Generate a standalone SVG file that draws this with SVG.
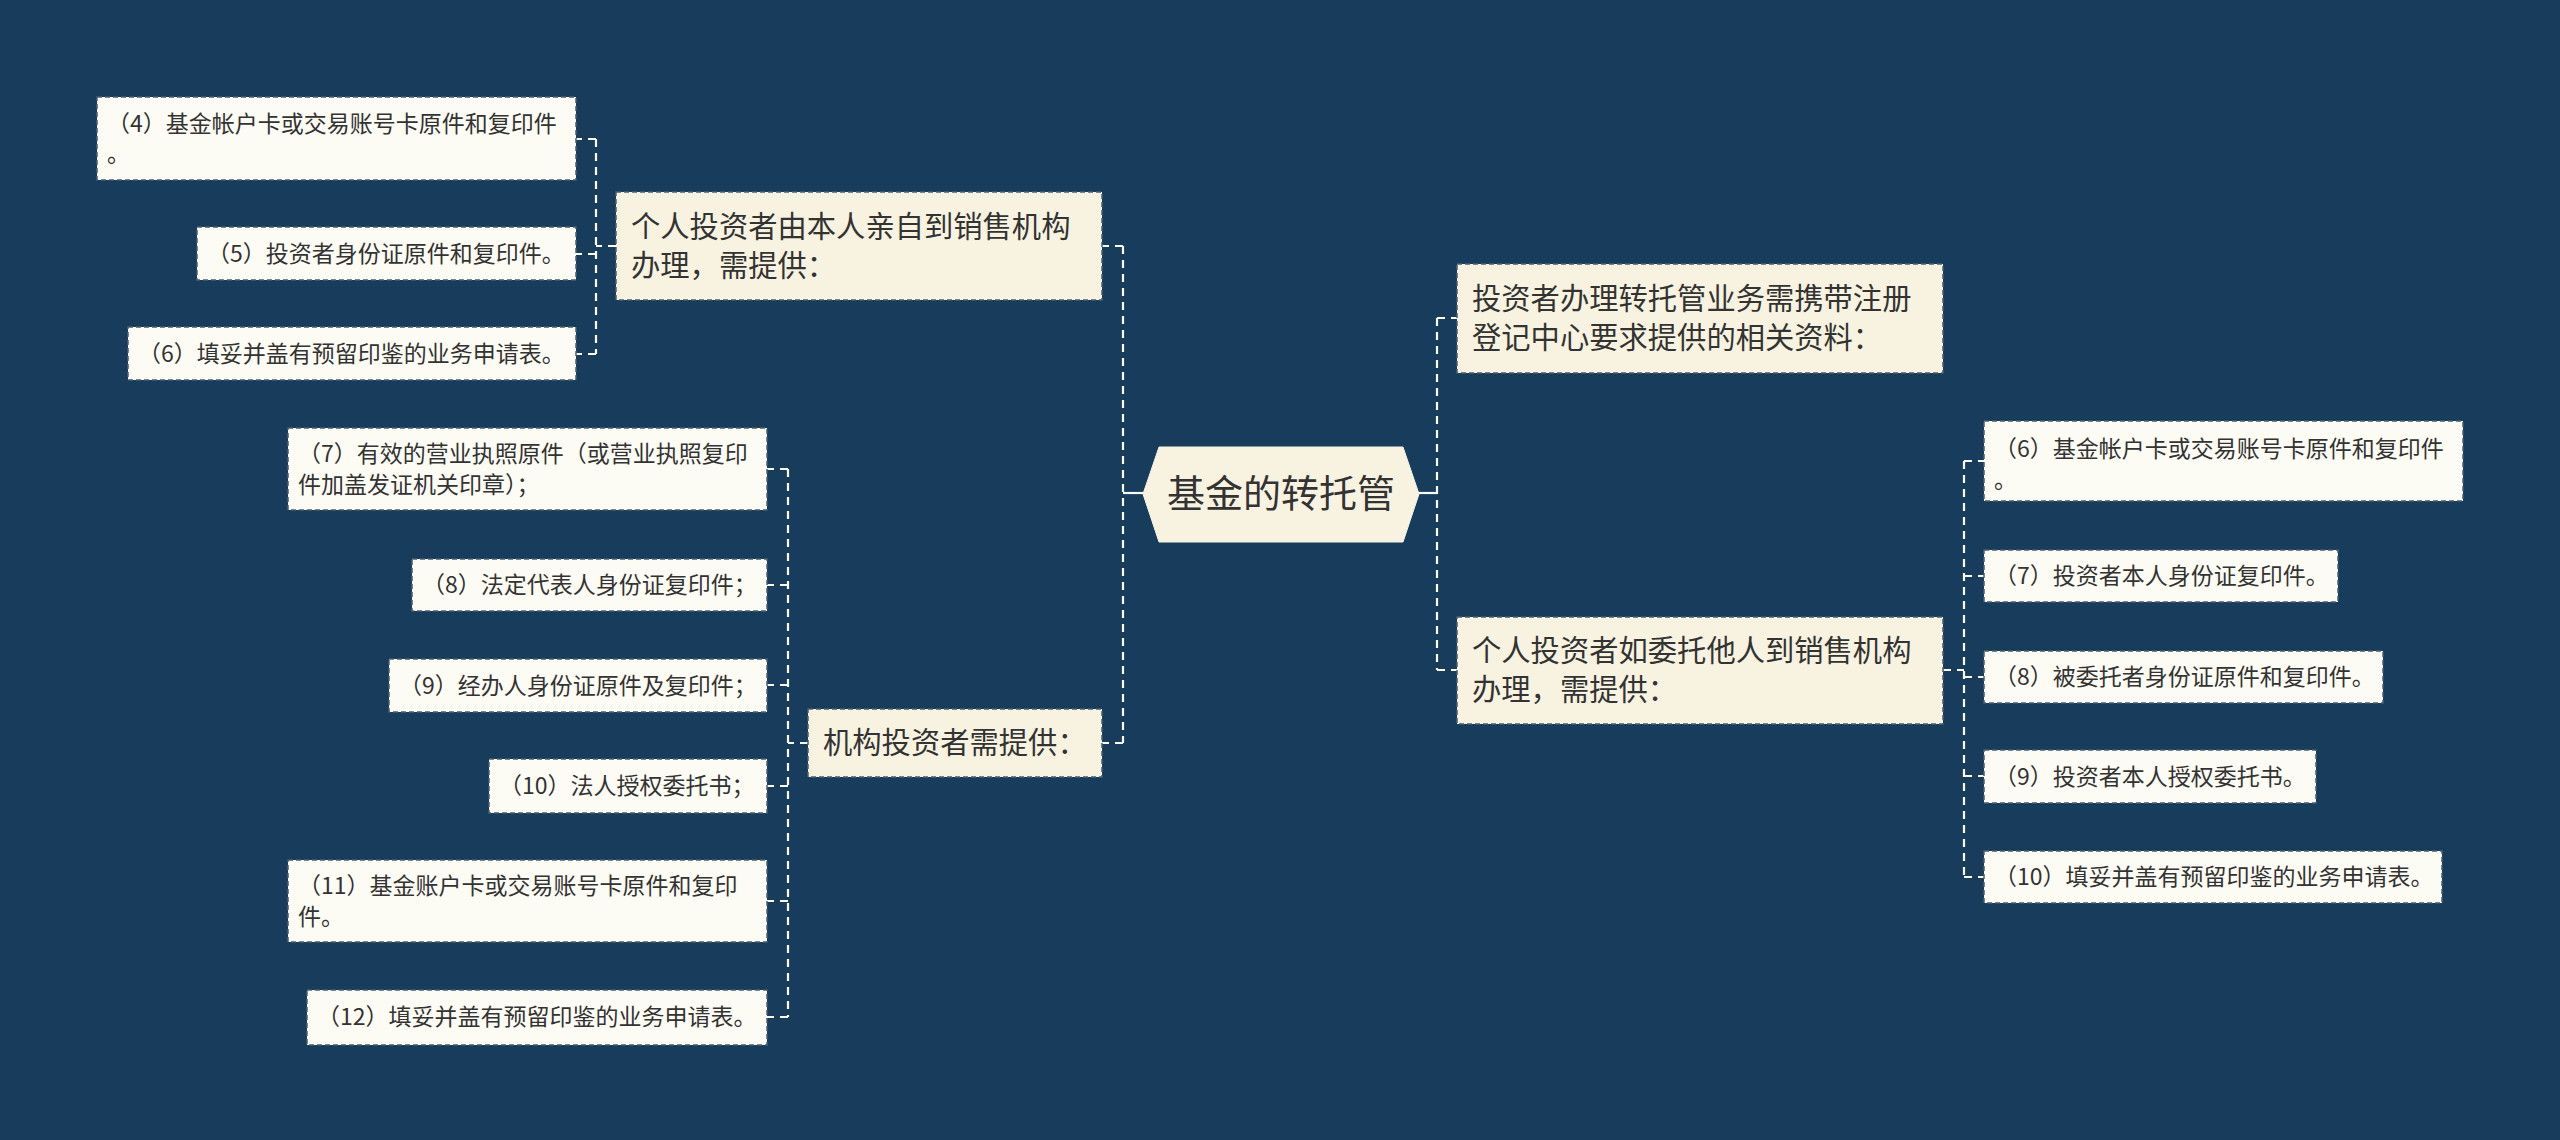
<svg xmlns="http://www.w3.org/2000/svg" width="2560" height="1140" viewBox="0 0 2560 1140">
<style>
.bg{fill:#173c5c}
.conn{fill:none;stroke:#ffffff;stroke-width:2.2;stroke-dasharray:8 6}
.stub{fill:none;stroke:#ffffff;stroke-width:2.2}
.hub{fill:#f8f3e1;stroke:#f8f3e1;stroke-width:1}
.mid{fill:#f8f3e1;stroke:#4b5d6e;stroke-width:1.5;stroke-dasharray:5 3}
.leaf{fill:#fdfcf4;stroke:#4b5d6e;stroke-width:1.5;stroke-dasharray:5 3}
text{font-family:"Noto Sans CJK SC","Noto Sans",sans-serif;fill:#333333}
.th{font-size:38px}
.tm{font-size:29.3px}
.tl{font-size:23px}
</style>
<rect class="bg" x="0" y="0" width="2560" height="1140"/>

<g id="connectors">
  <path class="stub" d="M1143 493 H1123"/>
  <path class="conn" d="M1123 246 V743"/>
  <path class="conn" d="M1123 246 H1102"/>
  <path class="conn" d="M1123 743 H1102"/>

  <path class="stub" d="M1419 493 H1437"/>
  <path class="conn" d="M1437 318 V670"/>
  <path class="conn" d="M1437 318 H1457"/>
  <path class="conn" d="M1437 670 H1457"/>

  <path class="conn" d="M616 246 H596"/>
  <path class="conn" d="M596 139 V354"/>
  <path class="conn" d="M596 139 H576"/>
  <path class="conn" d="M596 254 H576"/>
  <path class="conn" d="M596 354 H576"/>

  <path class="conn" d="M808 743 H788"/>
  <path class="conn" d="M788 469 V1017"/>
  <path class="conn" d="M788 469 H767"/>
  <path class="conn" d="M788 585 H767"/>
  <path class="conn" d="M788 685 H767"/>
  <path class="conn" d="M788 786 H767"/>
  <path class="conn" d="M788 901 H767"/>
  <path class="conn" d="M788 1017 H767"/>

  <path class="conn" d="M1943 670 H1964"/>
  <path class="conn" d="M1964 461 V877"/>
  <path class="conn" d="M1964 461 H1984"/>
  <path class="conn" d="M1964 576 H1984"/>
  <path class="conn" d="M1964 677 H1984"/>
  <path class="conn" d="M1964 776 H1984"/>
  <path class="conn" d="M1964 877 H1984"/>
</g>

<g id="hub">
  <polygon class="hub" points="1143,494 1159,447 1403,447 1419,494 1403,542 1159,542"/>
  <text class="th" x="1281" y="507" text-anchor="middle">基金的转托管</text>
</g>

<g id="n-self">
  <rect class="mid" x="616" y="192" width="486" height="108"/>
  <text class="tm" x="631" y="237">个人投资者由本人亲自到销售机构</text>
  <text class="tm" x="631" y="276">办理，需提供：</text>
</g>

<g id="n-inst">
  <rect class="mid" x="808" y="709" width="294" height="68"/>
  <text class="tm" x="823" y="753">机构投资者需提供：</text>
</g>

<g id="n-carry">
  <rect class="mid" x="1457" y="264" width="486" height="109"/>
  <text class="tm" x="1472" y="309">投资者办理转托管业务需携带注册</text>
  <text class="tm" x="1472" y="348">登记中心要求提供的相关资料：</text>
</g>

<g id="n-entrust">
  <rect class="mid" x="1457" y="617" width="486" height="107"/>
  <text class="tm" x="1472" y="661">个人投资者如委托他人到销售机构</text>
  <text class="tm" x="1472" y="700">办理，需提供：</text>
</g>

<g id="l4">
  <rect class="leaf" x="97" y="97" width="479" height="83"/>
  <text class="tl" x="107" y="132">（4）基金帐户卡或交易账号卡原件和复印件</text>
  <text class="tl" x="107" y="162">。</text>
</g>
<g id="l5">
  <rect class="leaf" x="197" y="227" width="379" height="53"/>
  <text class="tl" x="207" y="262">（5）投资者身份证原件和复印件。</text>
</g>
<g id="l6">
  <rect class="leaf" x="128" y="327" width="448" height="53"/>
  <text class="tl" x="138" y="362">（6）填妥并盖有预留印鉴的业务申请表。</text>
</g>

<g id="l7">
  <rect class="leaf" x="288" y="428" width="479" height="82"/>
  <text class="tl" x="298" y="462">（7）有效的营业执照原件（或营业执照复印</text>
  <text class="tl" x="298" y="493">件加盖发证机关印章）；</text>
</g>
<g id="l8">
  <rect class="leaf" x="412" y="559" width="355" height="52"/>
  <text class="tl" x="422" y="593">（8）法定代表人身份证复印件；</text>
</g>
<g id="l9">
  <rect class="leaf" x="389" y="659" width="378" height="53"/>
  <text class="tl" x="399" y="694">（9）经办人身份证原件及复印件；</text>
</g>
<g id="l10">
  <rect class="leaf" x="489" y="759" width="278" height="54"/>
  <text class="tl" x="499" y="794">（10）法人授权委托书；</text>
</g>
<g id="l11">
  <rect class="leaf" x="288" y="860" width="479" height="82"/>
  <text class="tl" x="298" y="894">（11）基金账户卡或交易账号卡原件和复印</text>
  <text class="tl" x="298" y="925">件。</text>
</g>
<g id="l12">
  <rect class="leaf" x="307" y="990" width="460" height="55"/>
  <text class="tl" x="317" y="1025">（12）填妥并盖有预留印鉴的业务申请表。</text>
</g>

<g id="r6">
  <rect class="leaf" x="1984" y="421" width="479" height="80"/>
  <text class="tl" x="1994" y="457">（6）基金帐户卡或交易账号卡原件和复印件</text>
  <text class="tl" x="1994" y="488">。</text>
</g>
<g id="r7">
  <rect class="leaf" x="1984" y="550" width="354" height="52"/>
  <text class="tl" x="1994" y="584">（7）投资者本人身份证复印件。</text>
</g>
<g id="r8">
  <rect class="leaf" x="1984" y="651" width="399" height="52"/>
  <text class="tl" x="1994" y="685">（8）被委托者身份证原件和复印件。</text>
</g>
<g id="r9">
  <rect class="leaf" x="1984" y="750" width="332" height="53"/>
  <text class="tl" x="1994" y="785">（9）投资者本人授权委托书。</text>
</g>
<g id="r10">
  <rect class="leaf" x="1984" y="851" width="458" height="52"/>
  <text class="tl" x="1994" y="885">（10）填妥并盖有预留印鉴的业务申请表。</text>
</g>
</svg>
